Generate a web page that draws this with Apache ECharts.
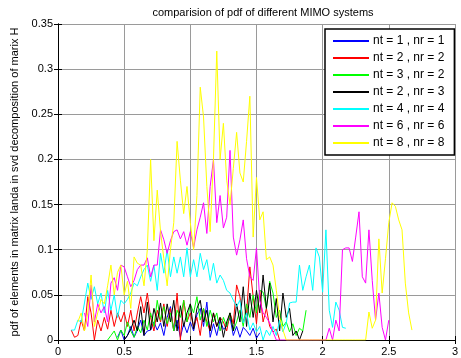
<!DOCTYPE html>
<html>
<head>
<meta charset="utf-8">
<script src="https://cdn.jsdelivr.net/npm/echarts@6/dist/echarts.min.js"></script>
<style>
  html, body { margin: 0; padding: 0; background: #fff; }
  #chart { width: 461px; height: 358px; }
</style>
</head>
<body>
<div id="chart"></div>
<script>
// shared x bins (step 0.025)
let xBins = [
  0.000, 0.025, 0.050, 0.075, 0.100, 0.125, 0.150, 0.175, 0.200, 0.225,
  0.250, 0.275, 0.300, 0.325, 0.350, 0.375, 0.400, 0.425, 0.450, 0.475,
  0.500, 0.525, 0.550, 0.575, 0.600, 0.625, 0.650, 0.675, 0.700, 0.725,
  0.750, 0.775, 0.800, 0.825, 0.850, 0.875, 0.900, 0.925, 0.950, 0.975,
  1.000, 1.025, 1.050, 1.075, 1.100, 1.125, 1.150, 1.175, 1.200, 1.225,
  1.250, 1.275, 1.300, 1.325, 1.350, 1.375, 1.400, 1.425, 1.450, 1.475,
  1.500, 1.525, 1.550, 1.575, 1.600, 1.625, 1.650, 1.675, 1.700, 1.725,
  1.750, 1.775, 1.800, 1.825, 1.850, 1.875, 1.900, 1.925, 1.950, 1.975,
  2.000, 2.025, 2.050, 2.075, 2.100, 2.125, 2.150, 2.175, 2.200, 2.225,
  2.250, 2.275, 2.300, 2.325, 2.350, 2.375, 2.400, 2.425, 2.450, 2.475,
  2.500, 2.525, 2.550, 2.575, 2.600, 2.625, 2.650, 2.675, 2.700
];

let seriesNames = [
  'nt = 1 , nr = 1', 'nt = 2 , nr = 2', 'nt = 3 , nr = 2', 'nt = 2 , nr = 3',
  'nt = 4 , nr = 4', 'nt = 6 , nr = 6', 'nt = 8 , nr = 8'
];
let seriesColors = ['#0000ff', '#ff0000', '#00ff00', '#000000', '#00ffff', '#ff00ff', '#ffff00'];

// first bin index of each series
let startIndex = [18, 4, 15, 20, 4, 8, 6];

let pdf11 = [
  0.003, 0.011, 0, 0.005, 0.015, 0.003, 0.011, 0.022, 0.005, 0.01,
  0.011, 0.02, 0.011, 0.019, 0.005, 0.025, 0.037, 0.01, 0.022, 0.003,
  0.018, 0.008, 0.02, 0.01, 0.028, 0.035, 0.015, 0.042, 0.003, 0.018,
  0.005, 0.022, 0.012, 0.015, 0.025, 0.005, 0.015, 0.003, 0.014, 0.01,
  0.005, 0.013, 0.002, 0.008
];
let pdf22 = [
  0.011, 0.003, 0.005, 0.022, 0.01, 0.048, 0.03, 0, 0.022, 0.01,
  0.025, 0.012, 0.033, 0.015, 0.03, 0.02, 0.031, 0.015, 0.033, 0.01,
  0.03, 0.048, 0.03, 0.052, 0.025, 0.01, 0.033, 0.02, 0.04, 0.015,
  0.035, 0.01, 0.052, 0, 0.044, 0.02, 0.03, 0.015, 0.025, 0.005,
  0.035, 0.02, 0.01, 0.03, 0.015, 0.025, 0.02, 0.01, 0.03, 0.018,
  0.061, 0.048, 0.02, 0.03, 0.081, 0.048, 0.018, 0.055, 0.02, 0.035,
  0.015, 0.009, 0.012, 0
];
let pdf32 = [
  0, 0.005, 0.01, 0, 0.011, 0.005, 0.02, 0.01, 0.003, 0.015,
  0.008, 0.022, 0.011, 0.03, 0.015, 0.044, 0.022, 0.037, 0.018, 0.03,
  0.01, 0.033, 0.025, 0.044, 0.02, 0.04, 0.03, 0.048, 0.022, 0.035,
  0.015, 0.033, 0.02, 0.03, 0.01, 0.025, 0.015, 0.03, 0.01, 0.02,
  0.033, 0.015, 0.04, 0.025, 0.05, 0.03, 0.055, 0.053, 0.035, 0.065,
  0.052, 0.025, 0.033, 0.015, 0.02, 0.009, 0.018, 0.005, 0.013, 0.01,
  0.033
];
let pdf23 = [
  0, 0.005, 0.012, 0.022, 0.01, 0.037, 0.005, 0.042, 0.011, 0.035,
  0.02, 0.041, 0.015, 0.04, 0.02, 0.044, 0.01, 0.038, 0.015, 0.03,
  0.04, 0.012, 0.035, 0.044, 0.02, 0.033, 0.01, 0.03, 0.015, 0.025,
  0.003, 0.02, 0.03, 0.01, 0.04, 0.02, 0.059, 0.015, 0.052, 0.025,
  0.055, 0.03, 0.072, 0.035, 0.063, 0.02, 0.046, 0.01, 0.052, 0.025,
  0.035, 0.005, 0.01, 0, 0.01
];
let pdf44 = [
  0.011, 0.011, 0.022, 0.02, 0.041, 0.063, 0.045, 0.059, 0.04, 0.052,
  0.03, 0.055, 0.033, 0.05, 0.025, 0.044, 0.04, 0.045, 0.052, 0.063,
  0.06, 0.07, 0.078, 0.083, 0.065, 0.083, 0.055, 0.096, 0.074, 0.1,
  0.07, 0.092, 0.074, 0.092, 0.07, 0.102, 0.07, 0.089, 0.07, 0.096,
  0.078, 0.089, 0.066, 0.085, 0.063, 0.072, 0.066, 0.055, 0.052, 0.044,
  0.037, 0.044, 0.019, 0.03, 0.011, 0.019, 0.009, 0.015, 0, 0.011,
  0.005, 0.015, 0.005, 0.022, 0.009, 0.019, 0.041, 0.042, 0.042, 0.083,
  0.055, 0.07, 0.083, 0.055, 0.102, 0.092, 0.053, 0.122, 0.033, 0.014,
  0.042, 0.033, 0.014, 0.013
];
let pdf66 = [
  0.03, 0.015, 0.061, 0.02, 0.04, 0.03, 0.037, 0.02, 0.063, 0.069,
  0.055, 0.083, 0.081, 0.07, 0.059, 0.066, 0.078, 0.083, 0.083, 0.091,
  0.07, 0.083, 0.083, 0.122, 0.111, 0.096, 0.11, 0.12, 0.122, 0.112,
  0.12, 0.105, 0.12, 0.102, 0.122, 0.136, 0.152, 0.118, 0.17, 0.2,
  0.13, 0.16, 0.124, 0.136, 0.21, 0.114, 0.094, 0.111, 0.133, 0.09,
  0.07, 0.066, 0.102, 0.044, 0.03, 0.025, 0.019, 0.009, 0, 0,
  0, 0, 0, 0, 0, 0, 0, 0, 0, 0,
  0, 0, 0, 0, 0.013, 0, 0.022, 0.01, 0.1, 0.102,
  0.102, 0.087, 0.114, 0.142, 0.07, 0.063, 0.122, 0.066, 0.022, 0.052,
  0.014, 0, 0.022
];
let pdf88 = [
  0.02, 0.03, 0.01, 0.03, 0.072, 0.015, 0.03, 0.045, 0.04, 0.06,
  0.083, 0.05, 0.075, 0.083, 0.05, 0.065, 0.035, 0.092, 0.085, 0.083,
  0.06, 0.1, 0.2, 0.11, 0.166, 0.12, 0.09, 0.06, 0.1, 0.13,
  0.22, 0.177, 0.14, 0.17, 0.13, 0.1, 0.16, 0.28, 0.247, 0.17,
  0.12, 0.2, 0.32, 0.2, 0.24, 0.177, 0.15, 0.19, 0.23, 0.185,
  0.175, 0.22, 0.27, 0.114, 0.18, 0.133, 0.142, 0.089, 0.092, 0.083,
  0.055, 0.025, 0.011, 0, 0, 0, 0, 0, 0, 0,
  0, 0, 0, 0, 0, 0, 0, 0, 0, 0,
  0, 0, 0, 0, 0, 0, 0, 0, 0.031, 0.013,
  0.022, 0.112, 0.052, 0.09, 0.13, 0.152, 0.148, 0.133, 0.122, 0.063,
  0.03, 0.011
];

let xTicks = [0, 0.5, 1, 1.5, 2, 2.5, 3];
let yTicks = [0, 0.05, 0.1, 0.15, 0.2, 0.25, 0.3, 0.35];

let allValues = [pdf11, pdf22, pdf32, pdf23, pdf44, pdf66, pdf88];

let chart = echarts.init(document.querySelector('#chart'));
let font = 'Liberation Sans, Arial, sans-serif';

let series = allValues.map((vals, k) => ({
  name: seriesNames[k],
  type: 'line',
  symbol: 'none',
  animation: false,
  lineStyle: { color: seriesColors[k], width: 1 },
  itemStyle: { color: seriesColors[k] },
  data: vals.map((v, i) => [xBins[i + startIndex[k]], v])
}));

let gridLine = { show: true, lineStyle: { color: '#9a9a9a', width: 1 } };
let tick = { show: true, inside: true, length: 4, lineStyle: { color: '#000' } };

let option = {
  animation: false,
  backgroundColor: '#fff',
  title: {
    text: 'comparision of pdf of different MIMO systems',
    left: 258,
    top: 2,
    textAlign: 'center',
    textStyle: { fontFamily: font, fontSize: 11, fontWeight: 'normal', color: '#000' }
  },
  grid: { left: 58, top: 24, right: 4, bottom: 18 },
  legend: {
    orient: 'vertical',
    left: 325,
    top: 29,
    padding: [5, 10, 5, 8],
    icon: 'rect',
    itemWidth: 36,
    itemHeight: 2,
    itemGap: 3,
    backgroundColor: '#fff',
    borderColor: '#000',
    borderWidth: 1.5,
    textStyle: { fontFamily: font, fontSize: 12, color: '#000', padding: [0, 0, 0, -1], lineHeight: 14 },
    data: seriesNames
  },
  xAxis: [{
    type: 'value', min: 0, max: 3, interval: 0.5,
    axisLine: { show: true, lineStyle: { color: '#000' } },
    axisTick: tick,
    splitLine: gridLine,
    axisLabel: { fontFamily: font, fontSize: 11, color: '#000', margin: 6,
      formatter: v => xTicks.indexOf(v) >= 0 ? String(v) : '' }
  }, {
    type: 'value', min: 0, max: 3, interval: 0.5, position: 'top',
    axisLine: { show: true, lineStyle: { color: '#000' } },
    axisTick: tick, splitLine: { show: false }, axisLabel: { show: false }
  }],
  yAxis: [{
    type: 'value', min: 0, max: 0.35, interval: 0.05,
    name: 'pdf of elements in matrix landa in svd decomposition of marix H',
    nameLocation: 'middle',
    nameGap: 34,
    nameTextStyle: { fontFamily: font, fontSize: 11, color: '#000' },
    axisLine: { show: true, lineStyle: { color: '#000' } },
    axisTick: tick,
    splitLine: gridLine,
    axisLabel: { fontFamily: font, fontSize: 11, color: '#000', margin: 5,
      formatter: v => {
        let t = yTicks.find(y => Math.abs(y - v) < 1e-9);
        return t === undefined ? '' : String(t);
      } }
  }, {
    type: 'value', min: 0, max: 0.35, interval: 0.05, position: 'right',
    axisLine: { show: true, lineStyle: { color: '#000' } },
    axisTick: tick, splitLine: { show: false }, axisLabel: { show: false }
  }],
  series: series
};

chart.setOption(option);
</script>
</body>
</html>
